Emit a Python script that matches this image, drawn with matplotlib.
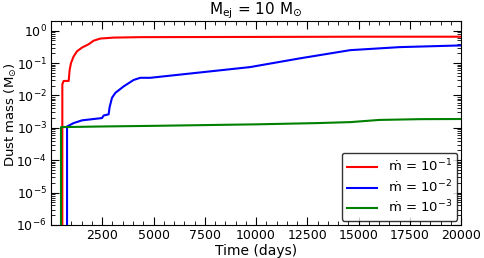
import matplotlib
matplotlib.use("Agg")
import matplotlib.pyplot as plt
from matplotlib.ticker import LogLocator, MultipleLocator, NullFormatter

# Data
t_red = [555, 556, 620, 865, 912, 978, 1107, 1270, 1514, 1838, 2082, 2407, 3057, 4357,
         10000, 15000, 20000]
m_red = [1e-7, 0.022, 0.028, 0.028, 0.061, 0.10, 0.16, 0.23, 0.30, 0.38, 0.49, 0.57, 0.61, 0.63,
         0.64, 0.65, 0.65]

t_blue = [785, 786, 1107, 1514, 2490, 2570, 2812, 2860, 2975, 3140, 3545, 4030, 4357, 4840,
          9710, 12150, 14590, 17000, 20000]
m_blue = [1e-7, 1.1e-3, 1.4e-3, 1.7e-3, 2.0e-3, 2.4e-3, 2.6e-3, 4.3e-3, 8.4e-3, 0.012,
          0.019, 0.030, 0.035, 0.035, 0.075, 0.14, 0.25, 0.31, 0.35]

t_green = [490, 491, 2500, 5000, 10000, 13000, 14600, 16000, 18000, 20000]
m_green = [1e-7, 1.05e-3, 1.1e-3, 1.15e-3, 1.28e-3, 1.4e-3, 1.5e-3, 1.75e-3, 1.85e-3, 1.87e-3]

labels = [r"$\dot{\mathrm{m}}$ = $10^{-1}$", r"$\dot{\mathrm{m}}$ = $10^{-2}$", r"$\dot{\mathrm{m}}$ = $10^{-3}$"]

fig = plt.figure(figsize=(4.85, 2.58), dpi=100)
ax = fig.add_axes([0.105, 0.128, 0.846, 0.791])

ax.plot(t_red, m_red, color="red", lw=1.5, label=labels[0])
ax.plot(t_blue, m_blue, color="blue", lw=1.5, label=labels[1])
ax.plot(t_green, m_green, color="green", lw=1.5, label=labels[2])

ax.set_yscale("log")
ax.set_xlim(0, 20000)
ax.set_ylim(1e-6, 2)
ax.xaxis.set_minor_locator(MultipleLocator(500))
ax.yaxis.set_major_locator(LogLocator(base=10, numticks=20))
ax.yaxis.set_minor_locator(LogLocator(base=10, subs=range(2, 10), numticks=100))
ax.yaxis.set_minor_formatter(NullFormatter())
ax.set_xticks([2500, 5000, 7500, 10000, 12500, 15000, 17500, 20000])
ax.tick_params(which="both", direction="in", top=True, right=True, labelsize=9, pad=3)
ax.tick_params(which="major", length=6)
ax.tick_params(which="minor", length=3)

ax.set_xlabel("Time (days)", fontsize=10, labelpad=1)
ax.set_ylabel(r"Dust mass (M$_{\odot}$)", fontsize=9.5)
ax.yaxis.set_label_coords(-0.078, 0.54)
ax.set_title(r"$\mathrm{M}_{\mathrm{ej}}$ = 10 $\mathrm{M}_{\odot}$", fontsize=11, pad=4)

ax.legend(loc="lower right", fontsize=9.5, frameon=True, edgecolor="black", fancybox=True,
          handlelength=2.3, borderaxespad=0.3, labelspacing=0.3)

fig.savefig("out.png", dpi=100)
